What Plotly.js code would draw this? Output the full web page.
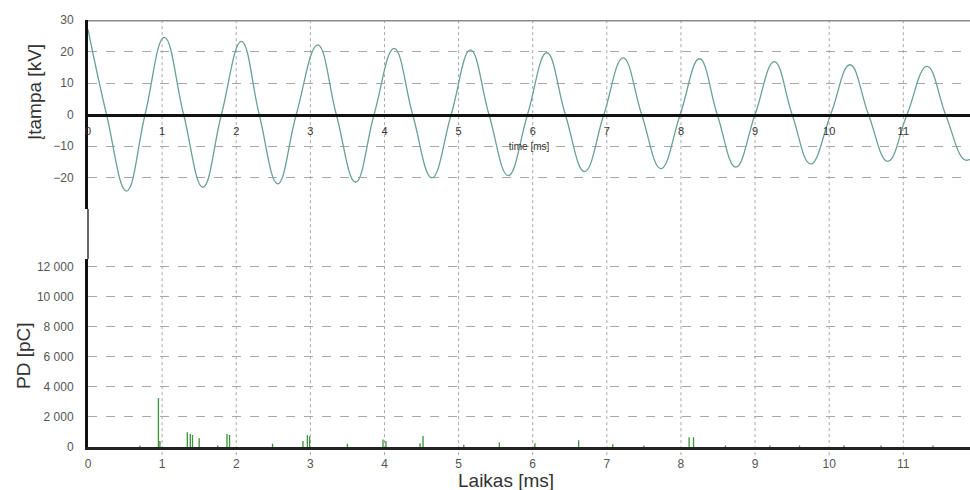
<!DOCTYPE html>
<html>
<head>
<meta charset="utf-8">
<script src="https://cdn.plot.ly/plotly-3.0.1.min.js"></script>
<style>html,body{margin:0;padding:0;background:#fff;}#chart{width:970px;height:490px;}</style>
</head>
<body>
<div id="chart"></div>
<script>
// Voltage waveform: key points (peaks, zero crossings, troughs)
var waveT = [0, 0.25, 0.52, 0.77, 1.03, 1.29, 1.55, 1.80, 2.07, 2.31, 2.56, 2.81, 3.10, 3.35, 3.61, 3.86, 4.13, 4.38, 4.64, 4.90, 5.16, 5.41, 5.67, 5.93, 6.19, 6.44, 6.70, 6.96, 7.22, 7.47, 7.73, 7.99, 8.25, 8.49, 8.74, 9.00, 9.26, 9.50, 9.75, 10.02, 10.28, 10.53, 10.79, 11.05, 11.32, 11.57, 11.82, 11.9];
var waveKV = [27, 0, -24.3, 0, 24.5, 0, -23.1, 0, 23.2, 0, -22.0, 0, 22.1, 0, -21.5, 0, 21.0, 0, -20.1, 0, 20.5, 0, -19.4, 0, 19.6, 0, -18.1, 0, 18.0, 0, -17.2, 0, 17.7, 0, -16.7, 0, 16.8, 0, -15.7, 0, 15.8, 0, -14.9, 0, 15.3, 0, -14.3, -14.2];

// Partial discharge pulses
var pdT = [0.70, 0.95, 0.97, 1.34, 1.38, 1.41, 1.50, 1.75, 1.875, 1.91, 2.49, 2.90, 2.96, 2.99, 3.50, 3.98, 4.02, 4.48, 4.52, 5.07, 5.55, 6.03, 6.62, 7.08, 7.50, 8.11, 8.17, 8.60, 9.20, 9.60, 10.20, 10.70, 11.40];
var pdPC = [100, 3250, 400, 980, 870, 800, 580, 100, 870, 800, 220, 400, 800, 700, 220, 500, 400, 250, 730, 150, 300, 250, 450, 180, 100, 650, 650, 100, 100, 100, 120, 100, 100];

// Axis ticks / labels
var xTicks = [0, 1, 2, 3, 4, 5, 6, 7, 8, 9, 10, 11];
var kvTicks = [-20, -10, 0, 10, 20, 30];
var pcTicks = [0, 2000, 4000, 6000, 8000, 10000, 12000];
var pcTickText = ['0', '2 000', '4 000', '6 000', '8 000', '10 000', '12 000'];
var xTitle = 'Laikas [ms]';
var topXTitle = 'time [ms]';
var kvTitle = 'Įtampa [kV]';
var pcTitle = 'PD [pC]';

// geometry
var W = 970, H = 490, mL = 88, mR = 0, mT = 20, mB = 43;
var plotW = W - mL - mR, plotH = H - mT - mB;
function px2paperX(px) { return (px - mL) / plotW; }
function px2paperY(py) { return (H - mB - py) / plotH; }
var topDomain = [px2paperY(209), 1];
var botDomain = [0, px2paperY(259)];
var kvRange = [-30, 30];
var zeroPos = topDomain[0] + (0 - kvRange[0]) / (kvRange[1] - kvRange[0]) * (topDomain[1] - topDomain[0]);

var traces = [
  {x: waveT, y: waveKV, type: 'scatter', mode: 'lines', xaxis: 'x', yaxis: 'y',
   line: {color: '#6aa097', width: 1.3, shape: 'spline', smoothing: 1.2}, hoverinfo: 'skip'},
  {x: pdT, y: pdPC, type: 'bar', xaxis: 'x2', yaxis: 'y2', width: 0.018,
   marker: {color: '#3c963c', line: {width: 0}}, hoverinfo: 'skip'}
];

var shapes = [];
xTicks.forEach(function (t) {
  if (t === 0) return;
  shapes.push({type: 'line', xref: 'x', yref: 'paper', x0: t, x1: t, y0: -0.019, y1: 1,
    line: {color: '#a8a8a8', width: 1, dash: 'dot'}, layer: 'below'});
});
// top border of the voltage panel
shapes.push({type: 'line', xref: 'paper', yref: 'y', x0: 0, x1: 1, y0: kvRange[1], y1: kvRange[1],
  line: {color: '#8c8c8c', width: 3}});
// thin line joining the two left axes
shapes.push({type: 'line', xref: 'paper', yref: 'paper', x0: 0, x1: 0, y0: botDomain[1], y1: topDomain[0],
  line: {color: '#333', width: 1.5}});

var tickFont = {family: 'Liberation Sans, Arial, sans-serif', size: 12, color: '#555'};
var titleFont = {family: 'Liberation Sans, Arial, sans-serif', size: 19, color: '#333'};

var layout = {
  width: W, height: H,
  margin: {l: mL, r: mR, t: mT, b: mB, pad: 0},
  paper_bgcolor: '#ffffff', plot_bgcolor: 'rgba(0,0,0,0)',
  showlegend: false,
  font: {family: 'Liberation Sans, Arial, sans-serif', color: '#444'},
  xaxis: {domain: [0, 1], range: [0, 11.9], anchor: 'free', position: zeroPos,
    showline: true, linecolor: '#111', linewidth: 3, showgrid: false, zeroline: false,
    tickmode: 'array', tickvals: xTicks, ticks: '', ticklabelstandoff: 5,
    tickfont: {family: 'Liberation Sans, Arial, sans-serif', size: 11, color: '#333'},
    title: {text: topXTitle, font: {family: 'Liberation Sans, Arial, sans-serif', size: 10, color: '#333'}, standoff: 7}},
  yaxis: {domain: topDomain, range: kvRange, anchor: 'x',
    tickmode: 'array', tickvals: kvTicks, ticks: '', ticklabelstandoff: 9,
    showline: true, linecolor: '#111', linewidth: 3,
    showgrid: true, gridcolor: '#a8a8a8', griddash: 'dash', gridwidth: 1, zeroline: false,
    tickfont: tickFont},
  xaxis2: {domain: [0, 1], range: [0, 11.9], anchor: 'y2', matches: 'x',
    showline: true, linecolor: '#222', linewidth: 3, showgrid: false, zeroline: false,
    tickmode: 'array', tickvals: xTicks, ticks: '', ticklabelstandoff: 4, tickfont: tickFont},
  yaxis2: {domain: botDomain, range: [0, 12500], anchor: 'x2',
    tickmode: 'array', tickvals: pcTicks, ticktext: pcTickText, ticks: '', ticklabelstandoff: 9,
    showline: true, linecolor: '#111', linewidth: 3,
    showgrid: true, gridcolor: '#a8a8a8', griddash: 'dash', gridwidth: 1, zeroline: false,
    tickfont: tickFont},
  shapes: shapes,
  annotations: [
    {text: kvTitle, xref: 'paper', yref: 'paper', x: px2paperX(35), y: px2paperY(92), textangle: -90,
     showarrow: false, xanchor: 'center', yanchor: 'middle', font: titleFont},
    {text: pcTitle, xref: 'paper', yref: 'paper', x: px2paperX(23), y: px2paperY(356), textangle: -90,
     showarrow: false, xanchor: 'center', yanchor: 'middle', font: titleFont},
    {text: xTitle, xref: 'paper', yref: 'paper', x: px2paperX(506), y: px2paperY(480),
     showarrow: false, xanchor: 'center', yanchor: 'middle', font: titleFont}
  ]
};

Plotly.newPlot('chart', traces, layout, {staticPlot: true, displayModeBar: false});
</script>
</body>
</html>
